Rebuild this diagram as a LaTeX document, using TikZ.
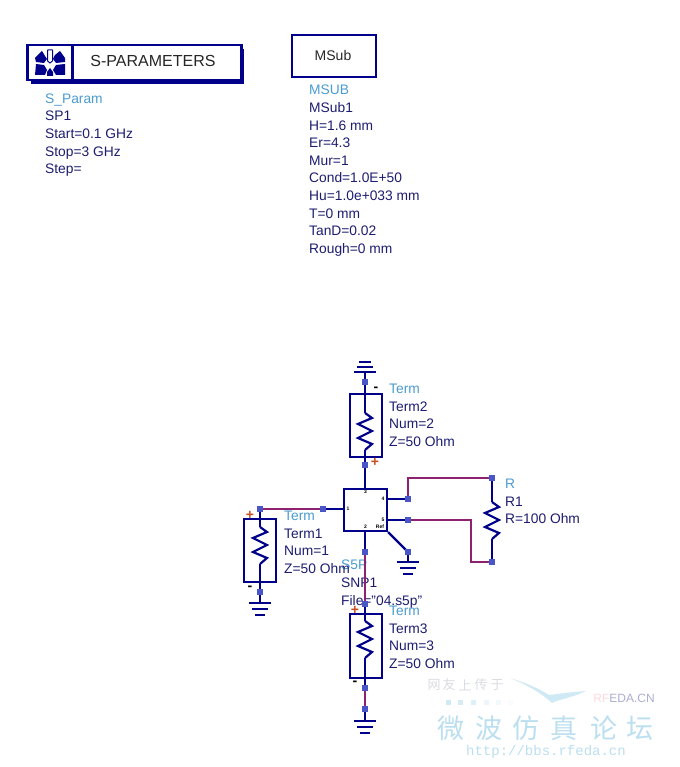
\documentclass[tikz,border=0pt]{standalone}
\usepackage{fontspec}
\setmainfont{Liberation Sans}
\setmonofont{Liberation Mono}
\newfontfamily\cjkfont{Noto Sans CJK SC}
\usepackage{xcolor}
\usetikzlibrary{positioning,arrows.meta,fit}

\definecolor{wireblue}{HTML}{00008B}
\definecolor{wirepurple}{HTML}{8E2270}
\definecolor{pinblue}{HTML}{4A55C8}
\definecolor{textnavy}{HTML}{1C1C70}
\definecolor{textblue}{HTML}{4A9BD0}
\definecolor{polarity}{HTML}{C8501E}
\definecolor{markblue}{HTML}{BBDFF0}
\definecolor{markgrey}{HTML}{DADBE2}

\tikzset{
  wire/.style={wireblue,line width=2.2pt},
  linkwire/.style={wirepurple,line width=2.2pt},
  compbox/.style={draw=wireblue,line width=2.2pt,fill=none,inner sep=0pt},
  pinpad/.style={fill=pinblue,inner sep=0pt,minimum size=5.5pt},
  infotext/.style={anchor=north west,inner sep=0pt,align=left,text=textnavy,
    font=\fontsize{13.8}{17.6}\selectfont},
  portnum/.style={inner sep=0pt,font=\fontsize{5}{5}\selectfont\bfseries},
  signmark/.style={inner sep=0pt,font=\fontsize{14}{14}\selectfont\bfseries},
  markchar/.style={inner sep=0pt,text=markblue,font=\cjkfont\fontsize{27}{27}\selectfont},
  zigzag/.pic={\draw[wire] (0,0) -- (7,5) -- (-7,11) -- (7,18) -- (-7,25) -- (7,31) -- (0,37);},
  gndbars/.pic={
    \draw[wire] (-11,0) -- (11,0);
    \draw[wire] (-8,6) -- (8,6);
    \draw[wire] (-5,12) -- (5,12);},
  gndup/.pic={
    \draw[wire] (-11,0) -- (11,0);
    \draw[wire] (-8,-5) -- (8,-5);
    \draw[wire] (-6,-10) -- (6,-10);}
}

\begin{document}
\begin{tikzpicture}[x=1pt,y=-1pt]
    \useasboundingbox (0,0) rectangle (679,767);

    % Watermark
    \fill[markblue!70] (510,678) .. controls (525,684) and (540,692) .. (552,703)
        .. controls (556,700) and (572,698) .. (586,691)
        .. controls (570,692) and (558,694) .. (549,695)
        .. controls (538,688) and (524,682) .. (510,678) -- cycle;
    \foreach \ch/\x in {网/434,友/449,上/465,传/481,于/497}
        \node[inner sep=0pt,text=markgrey,font=\cjkfont\fontsize{13}{13}\selectfont] (mk\x) at (\x,685) {\ch};
    \foreach \x/\op in {448/70,460/60,473/50,486/30,498/20,510/10}
        \fill[markblue!\op!white] (\x-2.5,700) rectangle (\x+2.5,705);
    \node[inner sep=0pt,font=\fontsize{12}{12}\selectfont] (mkname) at (624,698)
        {\textcolor{red!15}{RF}\textcolor{blue!30!gray!50}{EDA.CN}};
    \foreach \ch/\x in {微/451,波/489,仿/526,真/564,论/604,坛/640}
        \node[markchar] (mc\x) at (\x,728) {\ch};
    \node[inner sep=0pt,text=markblue,font=\ttfamily\fontsize{14}{14}\selectfont] (mkurl) at (546,752) {http://bbs.rfeda.cn};

    % S-parameters box
    \fill[wireblue] (31,49) rectangle (244,84);
    \node[compbox,fill=white,minimum width=214pt,minimum height=35pt] (spbox) at (134.5,62.5) {};
    \draw[wire] (72.5,45) -- (72.5,80);
    \node[inner sep=0pt,text=black!85,font=\fontsize{16}{16}\selectfont] (sptitle) at (153,61) {S-PARAMETERS};

    % Icon inside box
    \fill[wireblue] (35,58) -- (42,51) -- (45,56) -- (47,59) -- (44,63) -- (36,62) -- cycle;
    \fill[wireblue] (65,58) -- (60,51) -- (55,55) -- (53,59) -- (56,63) -- (65,62) -- cycle;
    \fill[wireblue] (36,64) -- (44,65) -- (47,70) -- (45,75) -- (35,75) -- cycle;
    \fill[wireblue] (65,64) -- (56,65) -- (53,70) -- (56,75) -- (65,75) -- cycle;
    \fill[wireblue] (47,72) -- (50,68) -- (53,72) -- (53,76) -- (47,76) -- cycle;
    \draw[wireblue,line width=1pt] (47.5,50) -- (47.5,61) (52.5,50) -- (52.5,61)
        (47.5,50) -- (52.5,50) (47.5,61) -- (50,63) -- (52.5,61);

    % MSub box
    \node[compbox,minimum width=84pt,minimum height=42pt] (msubbox) at (334,56) {};
    \node[inner sep=0pt,text=black!85,font=\fontsize{14}{14}\selectfont] (msubname) at (333,55) {MSub};

    % Info texts
    \node[infotext] (spinfo) at (45,93.5)
        {\textcolor{textblue}{S\_Param}\\SP1\\Start=0.1 GHz\\Stop=3 GHz\\Step=};
    \node[infotext] (msubinfo) at (309,85)
        {\textcolor{textblue}{MSUB}\\MSub1\\H=1.6 mm\\Er=4.3\\Mur=1\\Cond=1.0E+50\\Hu=1.0e+033 mm\\T=0 mm\\TanD=0.02\\Rough=0 mm};
    \node[infotext] (s5pinfo) at (341,560)
        {\textcolor{textblue}{S5P}\\SNP1\\File="04.s5p"};
    \node[infotext] (rinfo) at (505,479)
        {\textcolor{textblue}{R}\\R1\\R=100 Ohm};

    % Pins
    \foreach \nm/\x/\y in {
        t2top/365/382, t2bot/365/465,
        t1top/260/509, t1bot/260/592,
        t3top/365/604, t3bot/365/688, t3gnd/365/709,
        snpa/323/509, snpb/365/552, snpc/408/499, snpd/408/520, snpe/408/552,
        rtop/492/478, rbot/492/562}
        \coordinate (\nm) at (\x,\y);

    % Resistor wires for the three terms and R
    \draw[wire] (t2top) -- (365,413) (365,450) -- (t2bot);
    \draw[wire] (t1top) -- (260,527) (260,564) -- (t1bot);
    \draw[wire] (t3top) -- (365,621) (365,658) -- (t3bot);
    \draw[wire] (rtop) -- (492,502) (492,539) -- (rbot);
    \foreach \x/\y in {365/413,260/527,365/621,492/502}
        \pic at (\x,\y) {zigzag};

    % Term boxes and labels
    \foreach \num/\x/\y/\lx/\ly in {2/366/425.5/389/384, 1/260/550.5/284/511, 3/366/646/389/606}{
        \node[compbox,minimum width=32pt,minimum height=63.5pt] (term\num) at (\x,\y) {};
        \node[infotext] (terminfo\num) at (\lx,\ly)
            {\textcolor{textblue}{Term}\\Term\num\\Num=\num\\Z=50 Ohm};
    }

    % Polarity marks
    \foreach \nm/\x/\y in {a/376/389, b/250/588, c/355/683}
        \node[signmark] (minus\nm) at (\x,\y) {-};
    \foreach \nm/\x/\y in {a/375/462, b/250/515, c/355/610}
        \node[signmark,text=polarity] (plus\nm) at (\x,\y) {+};

    % S5P block
    \node[compbox,minimum width=43pt,minimum height=42pt] (block) at (365.5,510) {};
    \node[portnum] (pn3) at (365.5,492) {3};
    \node[portnum] (pn1) at (348,509) {1};
    \node[portnum] (pn4) at (383,499) {4};
    \node[portnum] (pn5) at (383,520) {5};
    \node[portnum] (pn2) at (365.5,527) {2};
    \node[portnum] (pnr) at (380,527) {Ref};

    % Blue stubs
    \draw[wire] (t2bot) -- (block.north -| t2bot);
    \draw[wire] (snpa) -- (block.west |- snpa);
    \draw[wire] (snpb) -- (block.south -| snpb);
    \draw[wire] (snpc) -- (block.east |- snpc);
    \draw[wire] (snpd) -- (block.east |- snpd);
    \draw[wire] (block.south east) -- (snpe);

    % Purple links
    \draw[linkwire] (t1top) -- (snpa);
    \draw[linkwire] (snpb) -- (t3top);
    \draw[linkwire] (t3bot) -- (t3gnd);
    \draw[linkwire] (snpc) |- (rtop);
    \draw[linkwire] (snpd) -| (471,562) -- (rbot);

    % Grounds
    \draw[wire] (t2top) -- (365,372);
    \draw[wire] (t1bot) -- (260,603);
    \draw[wire] (t3gnd) -- (365,721);
    \draw[wire] (snpe) -- (408,562);
    \pic at (365,372) {gndup};
    \pic at (260,603) {gndbars};
    \pic at (365,721) {gndbars};
    \pic at (408,562) {gndbars};

    % Pin squares
    \foreach \nm in {t2top,t2bot,t1top,t1bot,t3top,t3bot,t3gnd,snpa,snpb,snpc,snpd,snpe,rtop,rbot}
        \node[pinpad] (pad\nm) at (\nm) {};
\end{tikzpicture}
\end{document}
